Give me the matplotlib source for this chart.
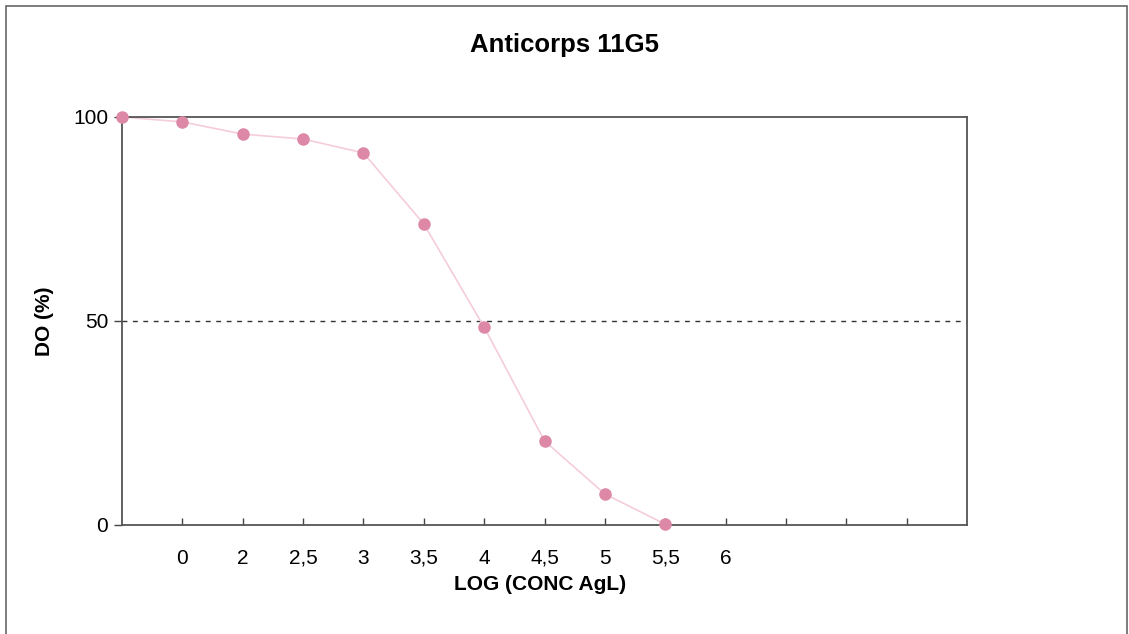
import matplotlib
matplotlib.use("Agg")
import matplotlib.pyplot as plt
from matplotlib.patches import Rectangle

title = "Anticorps 11G5"
x_label = "LOG (CONC AgL)"
y_label = "DO (%)"
tick_labels = ["0", "2", "2,5", "3", "3,5", "4", "4,5", "5", "5,5", "6", "", "", ""]
do_values = [100, 98.8, 95.8, 94.6, 91.2, 73.8, 48.5, 20.6, 7.6, 0.2]
reference_level = 50

plt.rcParams['font.family'] = ['Liberation Sans', 'DejaVu Sans']

W, H = 1129, 634
fig = plt.figure(figsize=(W / 100, H / 100), dpi=100)
ax = fig.add_axes([122 / W, 1 - 525 / H, (967 - 122) / W, (525 - 117) / H])

positions = list(range(len(do_values)))
ax.plot(positions, do_values, color="#f5cdd9", lw=1.2, zorder=2, clip_on=False)
ax.plot(positions, do_values, ls="none", marker="o", ms=8, color="#dd88a6",
        markeredgecolor="#dd88a6", zorder=3, clip_on=False)
ax.axhline(reference_level, color="#333333", lw=1.0, ls=(0, (3.5, 4)), zorder=1)

ax.set_xlim(0, 14)
ax.set_ylim(0, 100)
tick_pos = list(range(1, len(tick_labels) + 1))
ax.set_xticks(tick_pos)
ax.set_xticklabels(tick_labels, fontsize=15)
ax.set_yticks([0, 50, 100])
ax.set_yticklabels(["0", "50", "100"], fontsize=15)
ax.tick_params(axis="x", direction="in", length=5, width=1, color="#444444", pad=28)
ax.tick_params(axis="y", direction="out", length=6, width=1, color="#444444", pad=4)
for lbl in ax.get_xticklabels():
    lbl.set_verticalalignment("baseline")

for s in ax.spines.values():
    s.set_color("#555555")
    s.set_linewidth(1.3)

fig.text(540 / W, 1 - 584 / H, x_label, fontsize=15, fontweight="bold",
         ha="center", va="center")
fig.text(45 / W, 1 - 321 / H, y_label, fontsize=15, fontweight="bold",
         ha="center", va="center", rotation=90)
fig.text(565 / W, 1 - 45 / H, title, fontsize=18.5, fontweight="bold",
         ha="center", va="center")

fig.patches.append(Rectangle((6 / W, -0.1), (1127 - 6) / W, 1 - 6 / H + 0.1,
                             transform=fig.transFigure, fill=False,
                             edgecolor="#666666", lw=1.2))

fig.savefig("out.png", dpi=100)
